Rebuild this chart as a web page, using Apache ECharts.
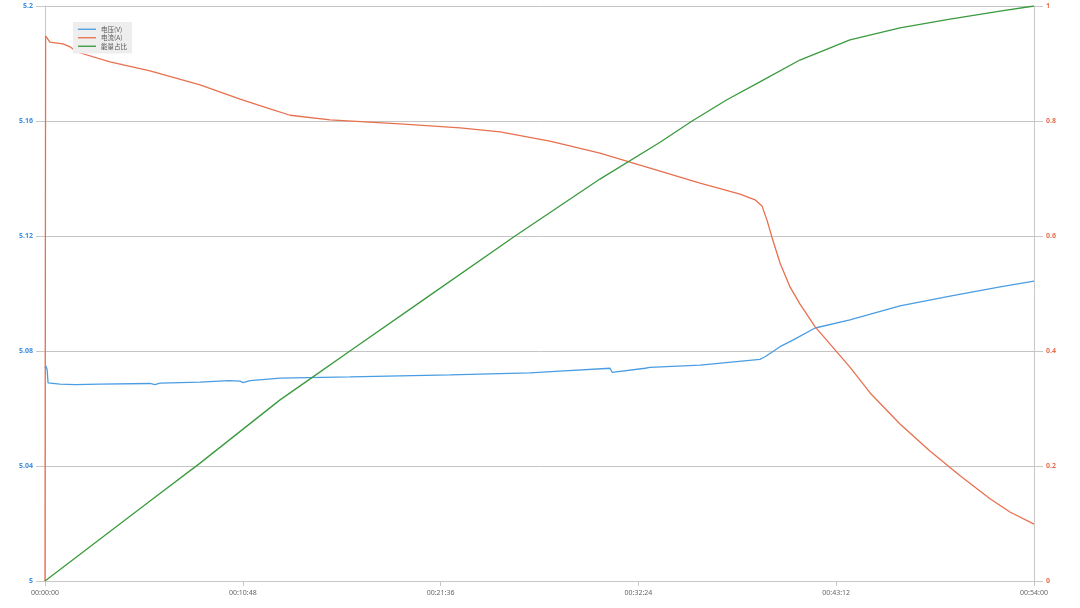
<!DOCTYPE html>
<html><head><meta charset="utf-8">
<script src="https://cdn.jsdelivr.net/npm/echarts@6/dist/echarts.min.js"></script>
<style>html,body{margin:0;padding:0;background:#fff}#c{width:1080px;height:608px}</style>
</head><body><div id="c"></div>
<script>
// time in seconds
const seriesNames = ['电压(V)', '电流(A)', '能量占比'];
const xTicks = [0, 648, 1296, 1944, 2592, 3240];
const voltTime = [0,3,7,10,49,98,180,344,360,377,508,603,609,639,649,672,770,999,1327,1589,1687,1851,1858,1966,1982,2146,2342,2359,2408,2450,2523,2637,2801,2965,3129,3240];
const voltValue = [5.0741,5.0748,5.0735,5.0689,5.0685,5.0683,5.0685,5.0687,5.0683,5.0688,5.0692,5.0697,5.0692,5.0695,5.0690,5.0697,5.0706,5.0710,5.0717,5.0724,5.0730,5.0740,5.0726,5.0740,5.0743,5.0751,5.0771,5.0780,5.0815,5.0838,5.0880,5.0908,5.0957,5.0991,5.1023,5.1043];
const currTime = [0,2,16,59,82,105,213,344,508,639,737,803,934,1163,1360,1491,1654,1818,1982,2146,2277,2326,2349,2365,2382,2408,2441,2473,2523,2572,2637,2703,2801,2899,2998,3096,3161,3240];
const currValue = [0,0.948,0.937,0.934,0.929,0.920,0.903,0.887,0.863,0.838,0.821,0.810,0.802,0.795,0.788,0.781,0.765,0.744,0.718,0.692,0.673,0.663,0.652,0.628,0.597,0.553,0.511,0.482,0.442,0.412,0.372,0.327,0.273,0.226,0.183,0.143,0.120,0.099];
const ratioTime = [0,344,508,770,878,999,1229,1540,1818,2015,2120,2234,2342,2473,2637,2801,2965,3129,3240];
const ratioValue = [0,0.139,0.205,0.315,0.355,0.400,0.485,0.600,0.699,0.763,0.800,0.837,0.868,0.906,0.941,0.962,0.977,0.991,1.000];

const zip = (a, b) => a.map((t, i) => [t, b[i]]);
const pad = n => String(n).padStart(2, '0');
const fmt = s => pad(Math.floor(s / 3600)) + ':' + pad(Math.floor(s % 3600 / 60)) + ':' + pad(s % 60);

const chart = echarts.init(document.getElementById('c'));
chart.setOption({
  animation: false,
  backgroundColor: '#fff',
  grid: { left: 45, right: 46, top: 6, bottom: 27 },
  legend: {
    orient: 'vertical', left: 73, top: 22,
    backgroundColor: '#eeeeee', padding: [4, 5, 4, 5],
    itemGap: 2, itemWidth: 18, itemHeight: 6,
    textStyle: { fontSize: 6.5, color: '#555', fontFamily: 'Noto Sans CJK SC' },
    icon: 'path://M0,0 L20,0 L20,1.5 L0,1.5 Z',
    data: seriesNames
  },
  xAxis: {
    type: 'value', min: 0, max: 3240, interval: 648,
    axisLine: { lineStyle: { color: '#c8c8c8', width: 1 } },
    axisTick: { show: true, length: 5, lineStyle: { color: '#c8c8c8' } },
    axisLabel: { fontSize: 7, color: '#666', margin: 8, formatter: v => fmt(v), fontFamily: 'Noto Sans' },
    splitLine: { show: false }
  },
  yAxis: [{
    type: 'value', min: 5, max: 5.2, interval: 0.04, position: 'left',
    axisLine: { show: true, lineStyle: { color: '#c8c8c8', width: 1 } },
    axisTick: { show: true, length: 9, lineStyle: { color: '#c8c8c8' } },
    axisLabel: { fontSize: 7, fontWeight: 'bold', color: '#3d8fe0', margin: 12, formatter: v => String(+v.toFixed(2)), fontFamily: 'Noto Sans' },
    splitLine: { show: true, lineStyle: { color: '#c4c4c4', width: 1 } }
  }, {
    type: 'value', min: 0, max: 1, interval: 0.2, position: 'right',
    axisLine: { show: true, lineStyle: { color: '#c8c8c8', width: 1 } },
    axisTick: { show: true, length: 9, lineStyle: { color: '#c8c8c8' } },
    axisLabel: { fontSize: 7, fontWeight: 'bold', color: '#e8704f', margin: 12, formatter: v => String(+v.toFixed(1)), fontFamily: 'Noto Sans' },
    splitLine: { show: false }
  }],
  series: [{
    name: seriesNames[0], type: 'line', yAxisIndex: 0, showSymbol: false,
    data: zip(voltTime, voltValue), color: '#4a9de2', lineStyle: { width: 1.3 }
  }, {
    name: seriesNames[1], type: 'line', yAxisIndex: 1, showSymbol: false,
    data: zip(currTime, currValue), color: '#e8704f', lineStyle: { width: 1.3 }
  }, {
    name: seriesNames[2], type: 'line', yAxisIndex: 1, showSymbol: false,
    data: zip(ratioTime, ratioValue), color: '#3a9a3e', lineStyle: { width: 1.3 }
  }]
});
</script></body></html>
